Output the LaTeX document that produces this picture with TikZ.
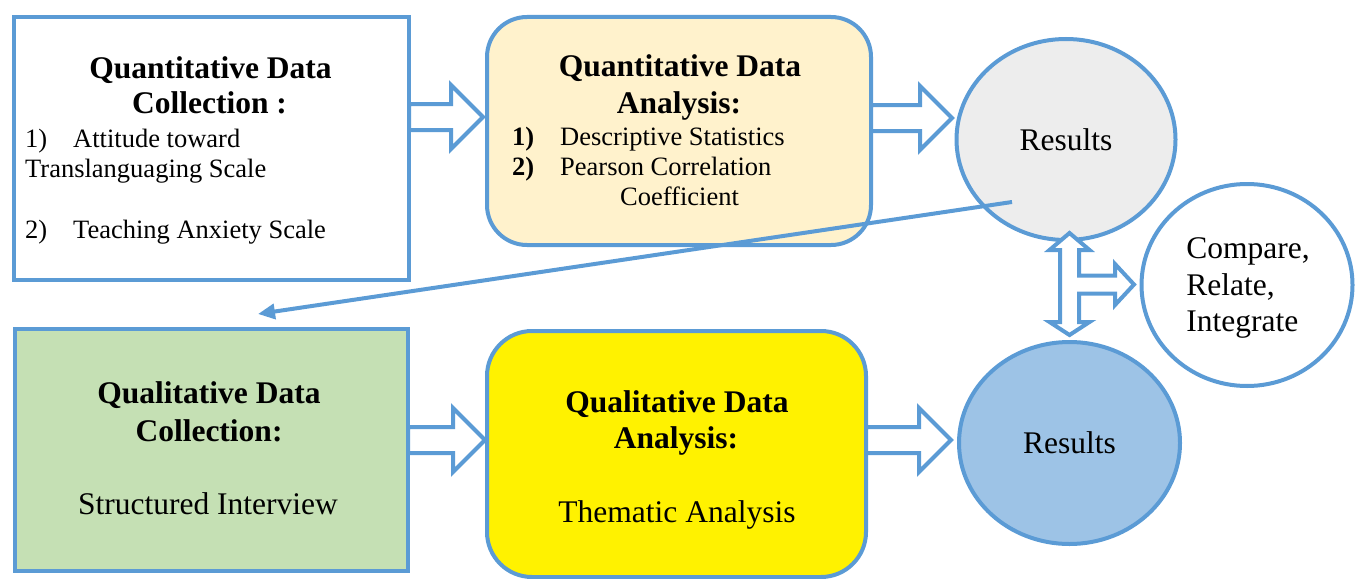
\documentclass[tikz,border=0pt]{standalone}
\usepackage{fontspec}
\setmainfont{Liberation Serif}
\usetikzlibrary{shapes.geometric,arrows.meta}

\definecolor{edgeblue}{RGB}{91,155,213}
\definecolor{quantfill}{RGB}{255,242,204}
\definecolor{resgray}{RGB}{237,237,237}
\definecolor{qualgreen}{RGB}{197,224,180}
\definecolor{resblue}{RGB}{157,195,230}

\newcommand{\stagehead}{\fontsize{31.5}{36}\selectfont\bfseries}
\newcommand{\stagebody}{\fontsize{26.5}{30.5}\selectfont}
\newcommand{\stagebig}{\fontsize{31.5}{36.5}\selectfont}

\tikzset{
  stagebox/.style={draw=edgeblue, line width=4pt, outer sep=0pt, inner sep=0pt},
  roundbox/.style={stagebox, rounded corners=40pt},
  oval/.style={stagebox, ellipse},
  txt/.style={inner sep=0pt, anchor=base},
  % hollow block arrow, #1 = length from tail to tip
  pics/fatarrow/.style={code={
    \draw[draw=edgeblue, line width=4pt, fill=white] (0,-13) -- ({#1-32},-13) -- ({#1-32},-32) -- (#1,0)
      -- ({#1-32},32) -- ({#1-32},13) -- (0,13) -- cycle;
  }},
}

\begin{document}
\begin{tikzpicture}[x=1pt,y=-1pt]
  \useasboundingbox (0,0) rectangle (1356,578);

  % boxes of the two strands
  \node[stagebox, fill=white, minimum width=395pt, minimum height=263pt] (quantcol) at (211.5,148.5) {};
  \node[roundbox, fill=quantfill, minimum width=384pt, minimum height=228pt] (quantana) at (679,131) {};
  \node[stagebox, fill=qualgreen, minimum width=393pt, minimum height=242pt] (qualcol) at (211.5,450) {};
  \node[roundbox, rounded corners=45pt, fill=yellow, minimum width=379pt, minimum height=246pt] (qualana) at (676.5,454) {};

  % results and merging
  \node[oval, fill=resgray, minimum width=219pt, minimum height=201pt, font=\stagebig] (quantres) at (1066,139.5) {Results};
  \node[oval, fill=white, minimum width=211pt, minimum height=202pt, font=\stagebig, align=left] (merge) at (1247,285) {};
  \node[inner sep=0pt, font=\stagebig, align=left] (mergetext) at (1248,288) {Compare,\\Relate,\\Integrate};
  \node[oval, fill=resblue, minimum width=221pt, minimum height=202pt, font=\stagebig] (qualres) at (1069.5,443) {Results};

  % texts in the quantitative collection box
  \node[txt, font=\stagehead] (qchead) at (210.5,78) {Quantitative Data};
  \node[txt, font=\stagehead] (qchead2) at (209.5,113) {Collection :};
  \node[txt, anchor=base west, font=\stagebody] (qcnum1) at (25,147) {1)};
  \node[txt, anchor=base west, font=\stagebody] (qcitem1) at (73,147) {Attitude toward};
  \node[txt, anchor=base west, font=\stagebody] (qcitem1b) at (25,177) {Translanguaging Scale};
  \node[txt, anchor=base west, font=\stagebody] (qcnum2) at (25,238) {2)};
  \node[txt, anchor=base west, font=\stagebody] (qcitem2) at (73,238) {Teaching Anxiety Scale};

  % texts in the quantitative analysis box
  \node[txt, font=\stagehead] (qahead) at (680,77) {Quantitative Data};
  \node[txt, font=\stagehead] (qahead2) at (679,113) {Analysis:};
  \node[txt, anchor=base west, font=\stagebody\bfseries] (qanum1) at (512,145) {1)};
  \node[txt, anchor=base west, font=\stagebody] (qaitem1) at (560,145) {Descriptive Statistics};
  \node[txt, anchor=base west, font=\stagebody\bfseries] (qanum2) at (512,175) {2)};
  \node[txt, anchor=base west, font=\stagebody] (qaitem2) at (560,175) {Pearson Correlation};
  \node[txt, anchor=base west, font=\stagebody] (qaitem2b) at (620,205) {Coefficient};

  % texts in the qualitative boxes
  \node[txt, font=\stagehead] (lchead) at (209,403) {Qualitative Data};
  \node[txt, font=\stagehead] (lchead2) at (209,441) {Collection:};
  \node[txt, font=\stagebig] (lcitem) at (208,514) {Structured Interview};
  \node[txt, font=\stagehead] (lahead) at (677,412) {Qualitative Data};
  \node[txt, font=\stagehead] (lahead2) at (676,448) {Analysis:};
  \node[txt, font=\stagebig] (laitem) at (677,522) {Thematic Analysis};

  % block arrows along each strand
  \pic at (quantcol.east |- 0,117) {fatarrow=74};
  \pic at (quantana.east |- 0,118) {fatarrow=81};
  \pic at (qualcol.east |- 0,440) {fatarrow=77};
  \pic at (qualana.east |- 0,440) {fatarrow=85};

  % double arrow between the results, branching to the merge
  \coordinate (hub) at (1069.5,284.5);
  \draw[draw=edgeblue, line width=4pt, fill=white] (hub)
    +(0,-51.5) -- +(20,-34.5) -- +(9.5,-34.5) -- +(9.5,-9) -- +(45.5,-9) -- +(45.5,-20.5)
    -- +(64.5,0) -- +(45.5,20.5) -- +(45.5,9) -- +(9.5,9) -- +(9.5,37.5) -- +(20,37.5)
    -- +(0,50.5) -- +(-20,37.5) -- +(-9.5,37.5) -- +(-9.5,-34.5) -- +(-20,-34.5) -- cycle;

  % link from the quantitative results down to the qualitative strand
  \coordinate (fromres) at (1012,202);
  \coordinate (toqual) at (258,314);
  \draw[edgeblue, line width=4pt, -{Triangle[length=17pt,width=15pt]}] (fromres) -- (toqual);
\end{tikzpicture}
\end{document}
